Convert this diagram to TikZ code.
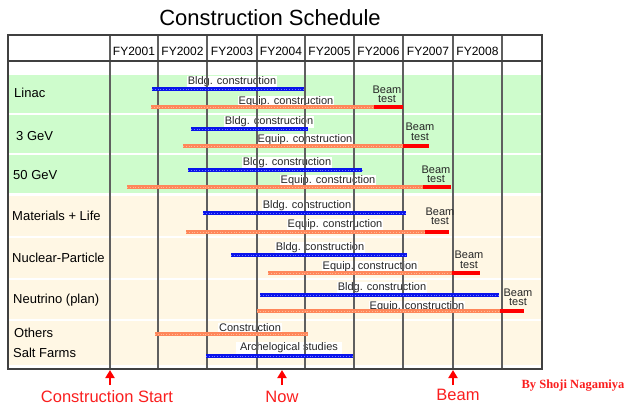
\documentclass[tikz,border=0pt]{standalone}
\usepackage{fontspec}
\setmainfont{Liberation Sans}
\newfontfamily\serifbold{Liberation Serif}
\usetikzlibrary{arrows.meta}
\definecolor{bandgreen}{RGB}{206,252,204}
\definecolor{bandcream}{RGB}{255,247,228}
\definecolor{barblue}{RGB}{10,20,235}
\definecolor{barblueL}{RGB}{110,120,255}
\definecolor{barorange}{RGB}{255,135,90}
\definecolor{barorangeL}{RGB}{255,185,150}
\definecolor{textred}{RGB}{250,30,30}
\definecolor{gridgray}{RGB}{95,95,95}
\begin{document}
\begin{tikzpicture}[x=1pt,y=-1pt,
  grid/.style={draw=gridgray,line width=1.3pt},
  frame/.style={draw=black!75,line width=1.5pt},
  fy/.style={font=\fontsize{12}{13}\selectfont,inner sep=0pt},
  rowlab/.style={font=\fontsize{13}{15}\selectfont,anchor=west,inner sep=0pt},
  barlab/.style={font=\fontsize{11}{12}\selectfont,fill=white,inner sep=1pt,text=black!85},
  beamlab/.style={font=\fontsize{11}{9.5}\selectfont,align=center,inner sep=0pt,text=black!85},
  bldg/.style={draw=barblue,line width=3.4pt,postaction={draw=barblueL,line width=0.9pt,dash pattern=on 1pt off 1.8pt}},
  equip/.style={draw=barorange,line width=3.2pt,postaction={draw=barorangeL,line width=0.8pt,dash pattern=on 1pt off 1.8pt}},
  beambar/.style={draw=red,line width=3.4pt},
  redlab/.style={font=\fontsize{16.5}{18}\selectfont,text=textred,inner sep=0pt},
  redarrow/.style={draw=red,line width=1.8pt,-{Triangle[length=8pt,width=9pt]}}
]
\useasboundingbox (0,0) rectangle (627,405);
% title
\node[font=\fontsize{22}{24}\selectfont,inner sep=0pt] (title) at (270,18) {Construction Schedule};
% bands
\fill[bandgreen] (8,75) rectangle (542,113);
\fill[bandgreen] (8,115) rectangle (542,153);
\fill[bandgreen] (8,155) rectangle (542,193);
\fill[bandcream] (8,196) rectangle (542,236);
\fill[bandcream] (8,238) rectangle (542,278);
\fill[bandcream] (8,280) rectangle (542,319);
\fill[bandcream] (8,321) rectangle (542,365);
% bar labels (white boxes under grid)
\node[barlab] (l1b) at (232,82) {Bldg. construction};
\node[barlab] (l1e) at (286,102) {Equip. construction};
\node[barlab] (l2b) at (269,122) {Bldg. construction};
\node[barlab] (l2e) at (305,140) {Equip. construction};
\node[barlab] (l3b) at (287,163) {Bldg. construction};
\node[barlab] (l3e) at (328,181) {Equip. construction};
\node[barlab] (l4b) at (307,206) {Bldg. construction};
\node[barlab] (l4e) at (335,225) {Equip. construction};
\node[barlab] (l5b) at (320,248) {Bldg. construction};
\node[barlab] (l5e) at (370,267) {Equip. construction};
\node[barlab] (l6b) at (382,288) {Bldg. construction};
\node[barlab] (l6e) at (417,307) {Equip. construction};
\node[barlab] (l7c) at (250,328) {Construction};
\node[barlab,minimum width=106pt] (l7a) at (289,348) {Archelogical studies};
% grid
\foreach \x in {110,158,207,257,305,354,403,453,502}
  \draw[grid] (\x,35) -- (\x,369);
\draw[frame] (8,61) -- (542,61);
\draw[frame] (8,35) rectangle (542,369);
% header
\node[fy] (fy1) at (134,51) {FY2001};
\node[fy] (fy2) at (182.5,51) {FY2002};
\node[fy] (fy3) at (232,51) {FY2003};
\node[fy] (fy4) at (281,51) {FY2004};
\node[fy] (fy5) at (329.5,51) {FY2005};
\node[fy] (fy6) at (378.5,51) {FY2006};
\node[fy] (fy7) at (428,51) {FY2007};
\node[fy] (fy8) at (477.5,51) {FY2008};
% row labels
\node[rowlab] (r1) at (14,93) {Linac};
\node[rowlab] (r2) at (16,136) {3 GeV};
\node[rowlab] (r3) at (13,175) {50 GeV};
\node[rowlab] (r4) at (12,216) {Materials + Life};
\node[rowlab] (r5) at (12,258) {Nuclear-Particle};
\node[rowlab] (r6) at (13,300) {Neutrino (plan)};
\node[rowlab] (r7) at (14,333) {Others};
\node[rowlab] (r8) at (13,353) {Salt Farms};
% bars
\draw[bldg] (152,89) -- (304,89);
\draw[equip] (151,107) -- (374,107);
\draw[beambar] (374,107) -- (403,107);
\draw[bldg] (191,129) -- (308,129);
\draw[equip] (183,146) -- (403,146);
\draw[beambar] (403,146) -- (429,146);
\draw[bldg] (188,170) -- (362,170);
\draw[equip] (127,187) -- (423,187);
\draw[beambar] (423,187) -- (451,187);
\draw[bldg] (203,213) -- (406,213);
\draw[equip] (186,232) -- (425,232);
\draw[beambar] (425,232) -- (449,232);
\draw[bldg] (231,255) -- (407,255);
\draw[equip] (268,273) -- (452,273);
\draw[beambar] (452,273) -- (480,273);
\draw[bldg] (260,295) -- (499,295);
\draw[equip] (257,311) -- (500,311);
\draw[beambar] (500,311) -- (524,311);
\draw[equip] (155,334) -- (308,334);
\draw[bldg] (206,356) -- (353,356);
% beam test labels
\node[beamlab] (b1) at (387,94.5) {Beam\\test};
\node[beamlab] (b2) at (420,132) {Beam\\test};
\node[beamlab] (b3) at (436,174.5) {Beam\\test};
\node[beamlab] (b4) at (440,216.5) {Beam\\test};
\node[beamlab] (b5) at (469,260) {Beam\\test};
\node[beamlab] (b6) at (518,297.5) {Beam\\test};
% bottom arrows
\node[redlab] (cs) at (107,397) {Construction Start};
\node[redlab] (now) at (282,397) {Now};
\node[redlab] (beam) at (458,395) {Beam};
\coordinate (t1) at (110,370);
\coordinate (t2) at (282,370);
\coordinate (t3) at (453,370);
\coordinate (s1) at (110,385);
\coordinate (s2) at (282,385);
\coordinate (s3) at (453,385);
\draw[redarrow] (s1) -- (t1);
\draw[redarrow] (s2) -- (t2);
\draw[redarrow] (s3) -- (t3);
\node[font=\serifbold\bfseries\fontsize{12.5}{14}\selectfont,text=textred,inner sep=0pt] (by) at (573,386) {By Shoji Nagamiya};
\end{tikzpicture}
\end{document}
